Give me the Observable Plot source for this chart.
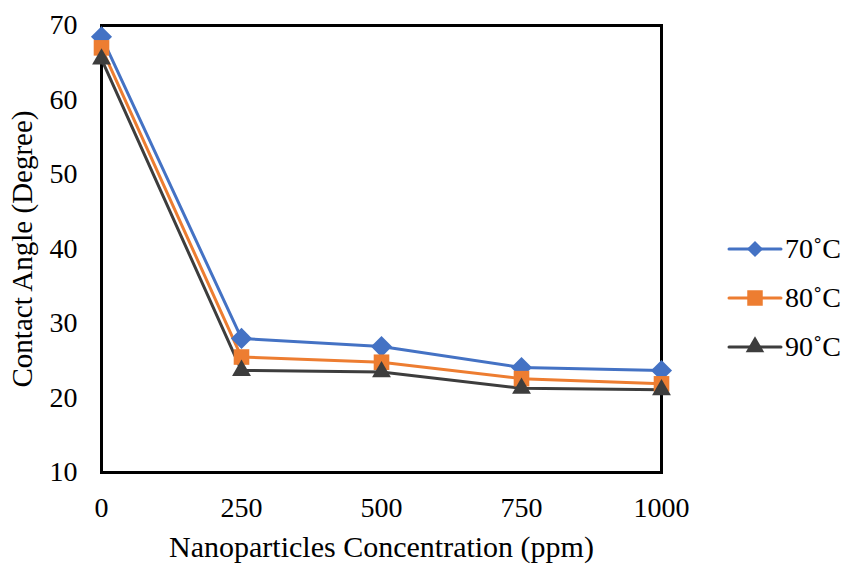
<!DOCTYPE html>
<html><head><meta charset="utf-8">
<script src="https://cdn.jsdelivr.net/npm/d3@7"></script>
<script src="https://cdn.jsdelivr.net/npm/@observablehq/plot@0.6"></script>
<style>
body{margin:0;background:#fff;}
#wrap{position:relative;width:848px;height:565px;font-family:"Liberation Serif","Times New Roman",serif;}
#legend{position:absolute;left:727px;top:224px;}
.item{display:flex;align-items:center;height:49px;font-size:28px;color:#000;}
.item svg{margin-right:2px;}
</style></head>
<body><div id="wrap"><div id="legend"></div></div>
<script>
const concentrations = [0, 250, 500, 750, 1000];
const series = ["70˚C", "80˚C", "90˚C"];
const angle70 = [68.5, 28.0, 26.9, 24.1, 23.7];
const angle80 = [67.0, 25.5, 24.8, 22.6, 21.9];
const angle90 = [65.5, 23.7, 23.5, 21.3, 21.1];
const yTicks = [10, 20, 30, 40, 50, 60, 70];
const colors = ["#4472C4", "#ED7D31", "#3D3D3D"];
const symbols = ["diamond2", "square", "triangle"];
const sizes = [9.5, 8.8, 7];
const legendSymbolArea = [165, 240, 150];

const values = [angle70, angle80, angle90];
const data = [];
series.forEach((s, i) => concentrations.forEach((c, j) => data.push({series: s, x: c, y: values[i][j]})));

const marks = [
  Plot.frame({stroke: "black", strokeWidth: 3}),
  Plot.axisX({ticks: concentrations, tickFormat: "d", tickSize: 0, tickPadding: 25, fontSize: 28, label: null}),
  Plot.axisX({ticks: [], tickSize: 0, fontSize: 30,
    label: "Nanoparticles Concentration (ppm)", labelAnchor: "center", labelArrow: "none", labelOffset: 84}),
  Plot.axisY({ticks: yTicks, tickSize: 0, tickPadding: 24, fontSize: 28, label: null}),
  Plot.axisY({ticks: [], tickSize: 0, fontSize: 29,
    label: "Contact Angle (Degree)", labelAnchor: "center", labelArrow: "none", labelOffset: 90})
];
series.forEach((s, i) => {
  const d = data.filter(r => r.series === s);
  marks.push(Plot.line(d, {x: "x", y: "y", stroke: colors[i], strokeWidth: 3}));
});
series.forEach((s, i) => {
  const d = data.filter(r => r.series === s);
  marks.push(Plot.dot(d, {x: "x", y: "y", fill: colors[i], stroke: "none", symbol: symbols[i], r: sizes[i]}));
});

const chart = Plot.plot({
  width: 848, height: 565,
  marginLeft: 101, marginRight: 187, marginTop: 25, marginBottom: 93,
  style: {fontFamily: "Liberation Serif, Times New Roman, serif", fontSize: "28px", color: "#000", background: "#fff"},
  x: {domain: [0, 1000]},
  y: {domain: [10, 70]},
  marks
});
document.getElementById("wrap").prepend(chart);

const legSym = [d3.symbolDiamond2, d3.symbolSquare, d3.symbolTriangle];
const leg = document.getElementById("legend");
series.forEach((s, i) => {
  const div = document.createElement("div");
  div.className = "item";
  const sym = d3.symbol(legSym[i], legendSymbolArea[i])();
  div.innerHTML = `<svg width="56" height="24"><line x1="2" x2="54" y1="12" y2="12" stroke="${colors[i]}" stroke-width="3" stroke-linecap="round"/><path transform="translate(28,12)" d="${sym}" fill="${colors[i]}"/></svg><span>${s}</span>`;
  leg.appendChild(div);
});
</script></body></html>
